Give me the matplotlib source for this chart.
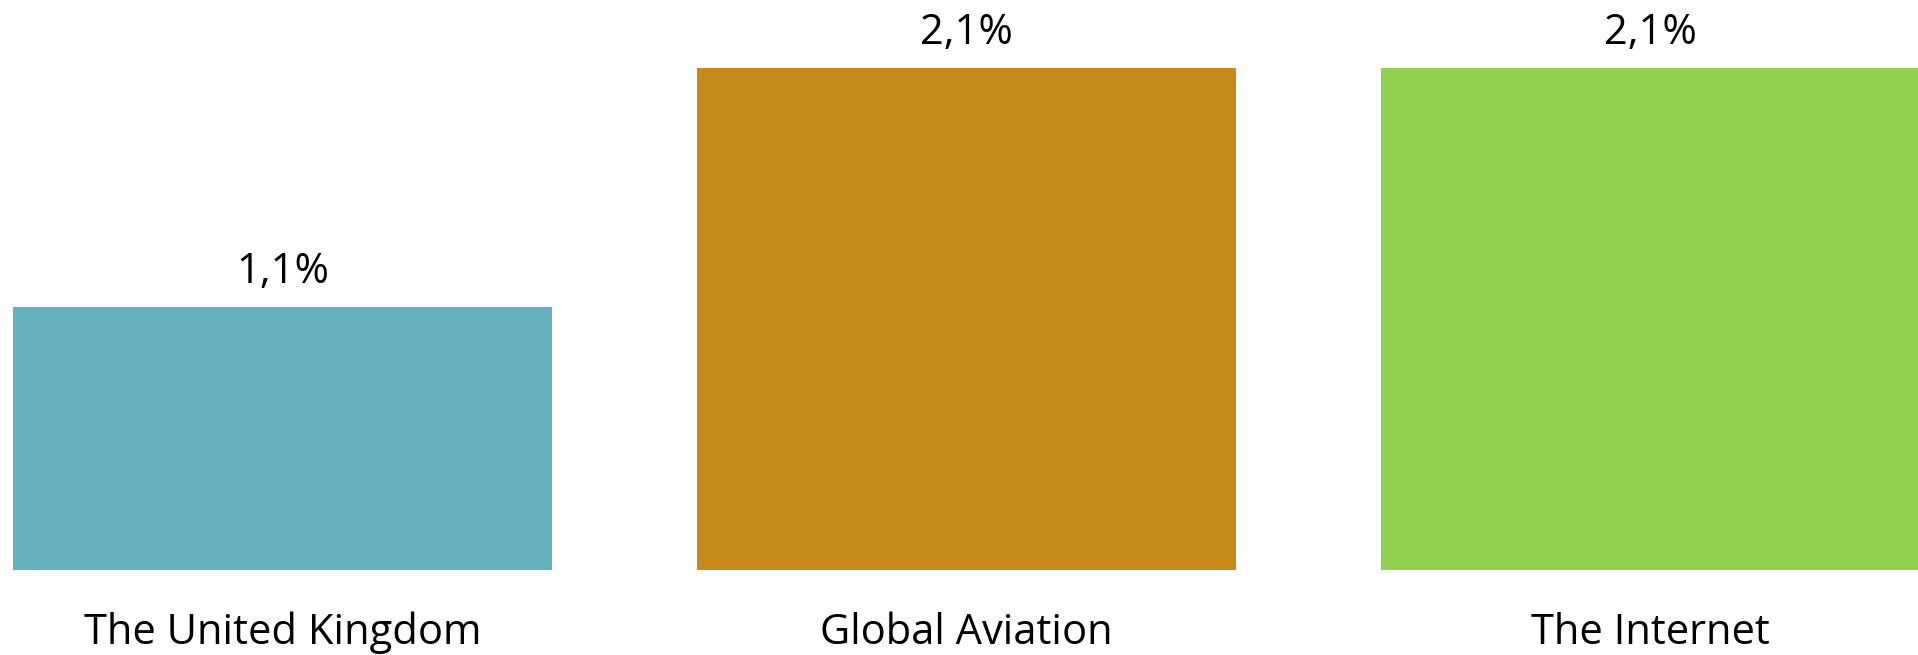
import matplotlib
matplotlib.use("Agg")
import matplotlib.pyplot as plt

categories = ["The United Kingdom", "Global Aviation", "The Internet"]
values = [1.1, 2.1, 2.1]
value_labels = ["1,1%", "2,1%", "2,1%"]
colors = ["#65B1BE", "#C58A19", "#92D050"]

W, H = 1918, 655
fig = plt.figure(figsize=(W / 100, H / 100), dpi=100)
ax = fig.add_axes([0, 0, 1, 1])

px_per_unit_y = 239.0
bottom_px = 570.0
pitch = 684.0
c0 = 282.5

ax.set_xlim(-c0 / pitch, (W - c0) / pitch)
ax.set_ylim(-(H - bottom_px) / px_per_unit_y, bottom_px / px_per_unit_y)

x = list(range(len(categories)))
ax.bar(x, values, width=539 / pitch, color=colors)

font = "Open Sans"
for xi, v, lab in zip(x, values, value_labels):
    ax.text(xi, v + 24 / px_per_unit_y, lab, ha="center", va="baseline",
            fontsize=30, family=font, color="#000000")

for xi, cat in zip(x, categories):
    ax.text(xi, -(644 - bottom_px) / px_per_unit_y, cat, ha="center", va="baseline",
            fontsize=30, family=font, color="#000000")

ax.axis("off")
fig.savefig("out.png", dpi=100)
